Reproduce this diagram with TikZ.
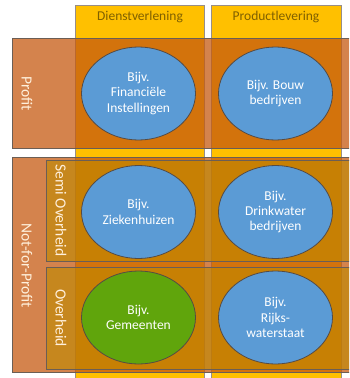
\documentclass[tikz,border=0pt]{standalone}
\usepackage{fontspec}
\setmainfont{Carlito}
\usetikzlibrary{shapes.geometric}
\definecolor{colyellow}{HTML}{FFC000}
\definecolor{boxorange}{HTML}{C55A11}
\definecolor{semibox}{HTML}{BF8900}
\definecolor{headtext}{HTML}{7F6000}
\definecolor{elblue}{HTML}{5B9BD5}
\definecolor{elgreen}{HTML}{60A50C}
\definecolor{edge}{HTML}{6B5E55}
\definecolor{labtext}{HTML}{FFF0DC}
\tikzset{
  colbox/.style={draw=edge!70, line width=0.6pt, fill=colyellow},
  rowbox/.style={draw=edge, line width=0.8pt, fill=boxorange, fill opacity=0.75},
  subbox/.style={draw=edge, line width=0.8pt, fill=semibox, fill opacity=0.6},
  headlabel/.style={text=headtext, font=\fontsize{13.5}{15}\selectfont},
  sidelabel/.style={text=labtext, rotate=-90, font=\fontsize{15.5}{17}\selectfont},
  example/.style={ellipse, draw=edge!80!black, line width=0.8pt, minimum width=114pt,
    minimum height=93pt, inner sep=0pt, text=white, align=center,
    font=\fontsize{13.5}{15.3}\selectfont},
}
\begin{document}
\begin{tikzpicture}[x=1pt,y=-1pt]
\useasboundingbox (0,0) rectangle (349,378);
\clip (0,0) rectangle (349,378);
% yellow columns
\draw[colbox] (75.5,5) rectangle (204.5,390);
\draw[colbox] (211,5) rectangle (341,390);
\node[headlabel] (h1) at (140,17) {Dienstverlening};
\node[headlabel] (h2) at (276,17) {Productlevering};
% row boxes
\draw[rowbox] (12,38.7) rectangle (360,148.3);
\draw[rowbox] (12,157.3) rectangle (360,372.5);
\draw[subbox] (46,160) rectangle (360,261);
\draw[subbox] (46,267.3) rectangle (360,369.3);
% side labels
\node[sidelabel] (profit) at (27,93.5) {Profit};
\node[sidelabel] (nfp) at (27,265.5) {Not-for-Profit};
\node[sidelabel] (semi) at (61,210.5) {Semi Overheid};
\node[sidelabel] (ovh) at (61,318) {Overheid};
% examples
\node[example, fill=elblue] (fin) at (138.5,93.5) {Bijv.\\Financiële\\Instellingen};
\node[example, fill=elblue] (bouw) at (275.5,93.5) {Bijv. Bouw\\bedrijven};
\node[example, fill=elblue] (zh) at (138.5,212) {Bijv.\\Ziekenhuizen};
\node[example, fill=elblue] (dw) at (275.5,212) {Bijv.\\Drinkwater\\bedrijven};
\node[example, fill=elgreen] (gem) at (138.5,317.5) {Bijv.\\Gemeenten};
\node[example, fill=elblue] (rws) at (275.5,317.5) {Bijv.\\Rijks-\\waterstaat};
\end{tikzpicture}
\end{document}
